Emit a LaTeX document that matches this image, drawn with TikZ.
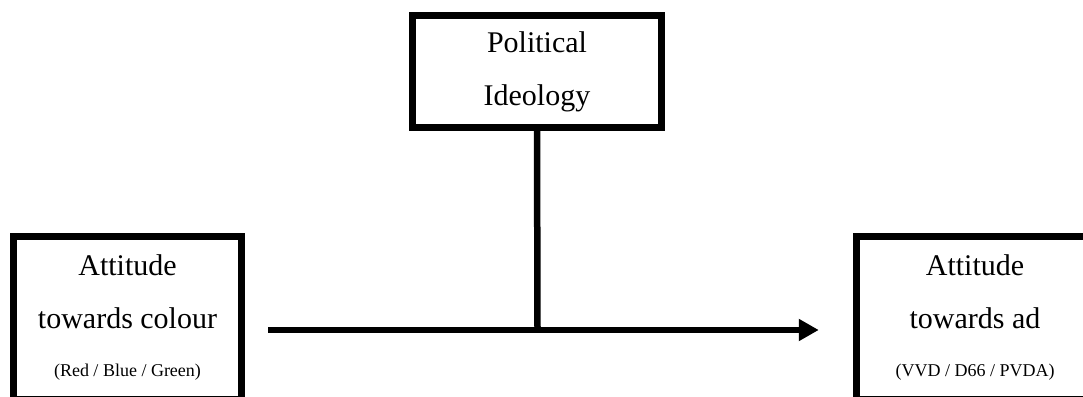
\documentclass[tikz,border=0pt]{standalone}
\usepackage{fontspec}
\setmainfont{Liberation Serif}
\usetikzlibrary{arrows.meta}

\begin{document}
\begin{tikzpicture}[x=1pt,y=1pt,
  box/.style={draw,line width=6.5pt,align=center,inner sep=0pt,font=\fontsize{30}{53}\selectfont},
  link/.style={line width=6.5pt}]
  \useasboundingbox (0,0) rectangle (1083,396);
  \node[box,minimum width=249pt,minimum height=112pt] (ideo) at (537,324.5) {Political\\Ideology};
  \node[box,minimum width=228pt,minimum height=162.5pt] (colour) at (127.5,78.25) {Attitude\\towards colour\\[-5pt]{\fontsize{18}{22}\selectfont (Red / Blue / Green)}};
  \node[box,minimum width=237pt,minimum height=162.5pt] (ad) at (975,78.25) {Attitude\\towards ad\\[-5pt]{\fontsize{18}{22}\selectfont (VVD / D66 / PVDA)}};
  \coordinate (join) at (537.5,66);
  \draw[link,-{Triangle[length=20pt,width=21pt]},shorten <=23.5pt,shorten >=34.5pt] (colour.east |- join) -- (ad.west |- join);
  \draw[link] (ideo.south) -- (join);
\end{tikzpicture}
\end{document}
